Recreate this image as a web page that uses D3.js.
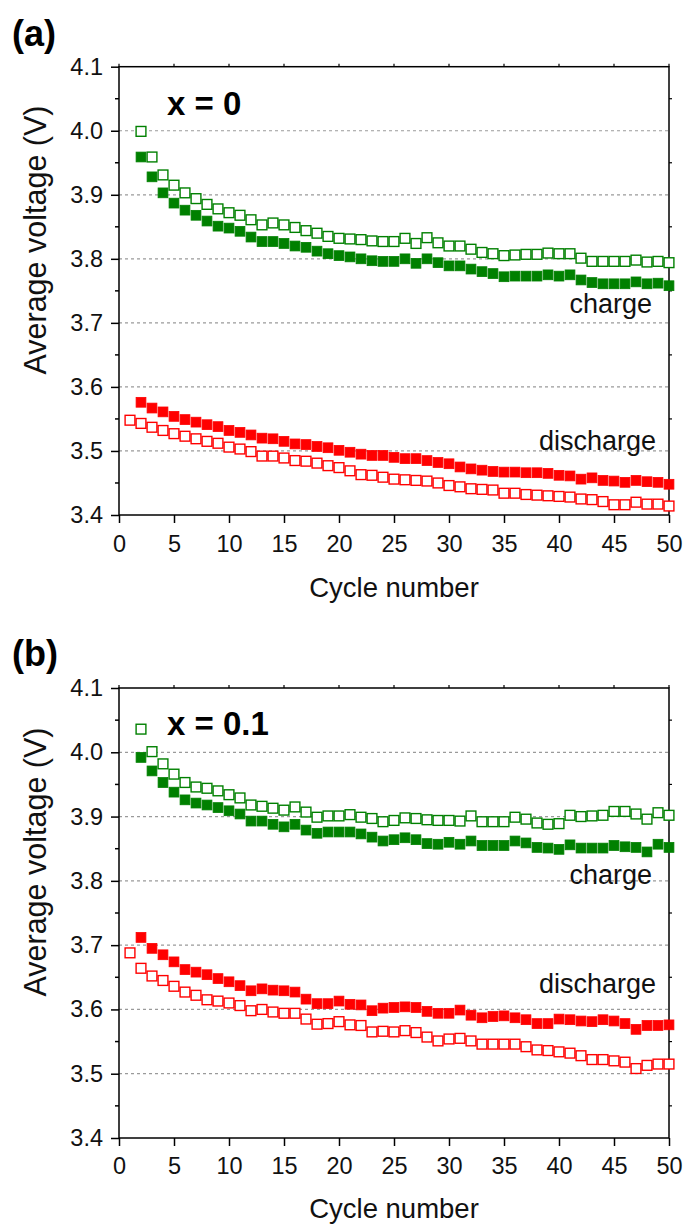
<!DOCTYPE html>
<html>
<head>
<meta charset="utf-8">
<script src="https://cdn.jsdelivr.net/npm/d3@7"></script>
<style>
  body { margin: 0; background: #fff; }
  svg { display: block; font-family: Arial, "Liberation Sans", sans-serif; }
</style>
</head>
<body>
<svg id="chart" width="685" height="1224"></svg>
<script>
// ---------------- DATA ----------------
const cyclesAll = [1,2,3,4,5,6,7,8,9,10,11,12,13,14,15,16,17,18,19,20,21,22,23,24,25,26,27,28,29,30,31,32,33,34,35,36,37,38,39,40,41,42,43,44,45,46,47,48,49,50];
const cyclesFrom2 = cyclesAll.slice(1);

const xTicks = [0,5,10,15,20,25,30,35,40,45,50];
const yTicks = [3.4,3.5,3.6,3.7,3.8,3.9,4.0,4.1];
const yTickLabels = ["3.4","3.5","3.6","3.7","3.8","3.9","4.0","4.1"];

// Panel (a): x = 0
const aChargeOpen = [3.999,3.959,3.931,3.915,3.903,3.894,3.885,3.878,3.872,3.868,3.861,3.853,3.856,3.853,3.849,3.844,3.840,3.835,3.832,3.831,3.830,3.828,3.827,
  3.827,3.832,3.824,3.833,3.825,3.820,3.820,3.815,3.810,3.808,3.805,3.806,3.807,3.807,3.809,3.808,3.808,3.801,3.796,3.796,3.796,3.796,3.798,3.795,3.796,3.794];
const aChargeFilled = [3.959,3.928,3.903,3.887,3.876,3.868,3.859,3.851,3.848,3.843,3.834,3.827,3.827,3.824,3.820,3.818,3.812,3.808,3.805,3.803,3.800,3.797,3.796,
  3.796,3.800,3.793,3.800,3.794,3.789,3.789,3.784,3.780,3.777,3.772,3.773,3.773,3.773,3.775,3.773,3.775,3.767,3.763,3.761,3.761,3.761,3.764,3.761,3.762,3.758];
const aDischargeFilled = [3.576,3.567,3.561,3.554,3.549,3.545,3.541,3.538,3.532,3.529,3.525,3.520,3.519,3.515,3.511,3.510,3.507,3.505,3.501,3.498,3.495,3.493,3.493,
  3.490,3.488,3.488,3.485,3.482,3.480,3.475,3.472,3.470,3.468,3.467,3.467,3.466,3.466,3.465,3.462,3.461,3.456,3.458,3.454,3.453,3.451,3.454,3.452,3.451,3.448];
const aDischargeOpen = [3.548,3.543,3.537,3.532,3.527,3.523,3.519,3.515,3.512,3.506,3.503,3.499,3.492,3.492,3.489,3.485,3.484,3.481,3.477,3.474,3.469,3.463,3.462,3.459,
  3.456,3.455,3.454,3.453,3.450,3.446,3.444,3.441,3.440,3.439,3.434,3.434,3.432,3.431,3.430,3.429,3.428,3.425,3.424,3.421,3.416,3.416,3.420,3.417,3.417,3.414];

// Panel (b): x = 0.1
const bChargeOpen = [4.036,4.001,3.982,3.966,3.953,3.946,3.944,3.940,3.934,3.929,3.918,3.916,3.913,3.910,3.915,3.907,3.899,3.901,3.901,3.903,3.899,3.897,3.892,
  3.894,3.898,3.897,3.895,3.894,3.894,3.893,3.901,3.892,3.892,3.892,3.899,3.896,3.890,3.888,3.889,3.902,3.900,3.901,3.902,3.908,3.908,3.904,3.896,3.906,3.902];
const bChargeFilled = [3.992,3.971,3.953,3.938,3.926,3.921,3.918,3.914,3.909,3.904,3.893,3.893,3.888,3.884,3.888,3.879,3.874,3.876,3.876,3.876,3.873,3.868,3.862,
  3.864,3.867,3.864,3.858,3.857,3.860,3.857,3.862,3.855,3.855,3.855,3.862,3.859,3.852,3.851,3.849,3.856,3.851,3.851,3.851,3.855,3.853,3.852,3.845,3.857,3.852];
const bDischargeFilled = [3.712,3.695,3.685,3.674,3.662,3.658,3.654,3.648,3.643,3.637,3.629,3.632,3.630,3.629,3.627,3.616,3.609,3.609,3.613,3.608,3.607,3.598,3.602,
  3.603,3.604,3.603,3.597,3.594,3.594,3.599,3.591,3.587,3.589,3.590,3.587,3.584,3.578,3.578,3.585,3.584,3.582,3.581,3.584,3.582,3.578,3.569,3.575,3.575,3.576];
const bDischargeOpen = [3.688,3.664,3.652,3.645,3.636,3.627,3.622,3.615,3.613,3.610,3.606,3.598,3.600,3.596,3.594,3.594,3.585,3.577,3.578,3.581,3.576,3.575,3.565,3.566,
  3.565,3.567,3.564,3.557,3.551,3.554,3.555,3.551,3.546,3.546,3.546,3.546,3.542,3.537,3.536,3.534,3.532,3.528,3.522,3.522,3.520,3.518,3.508,3.513,3.515,3.515];

const panelLetters = ["(a)", "(b)"];
const compositions = ["x = 0", "x = 0.1"];
const xTitle = "Cycle number";
const yTitle = "Average voltage (V)";
const chargeLabel = "charge";
const dischargeLabel = "discharge";

// ---------------- LAYOUT ----------------
const GREEN = "#008000", RED = "#ff0000";
const panels = [
  { top: 66.7, bottom: 515, letterY: 46, compY: 115, chargeY: 313, dischargeY: 450, yTitleY: 240, xLabY: 552, xTitleY: 597,
    series: [
      { x: cyclesFrom2, y: aChargeFilled, color: GREEN, filled: true },
      { x: cyclesFrom2, y: aChargeOpen, color: GREEN, filled: false },
      { x: cyclesFrom2, y: aDischargeFilled, color: RED, filled: true },
      { x: cyclesAll, y: aDischargeOpen, color: RED, filled: false }
    ]},
  { top: 688, bottom: 1138, letterY: 666, compY: 735, chargeY: 884, dischargeY: 993, yTitleY: 862, xLabY: 1174, xTitleY: 1218,
    series: [
      { x: cyclesFrom2, y: bChargeFilled, color: GREEN, filled: true },
      { x: cyclesFrom2, y: bChargeOpen, color: GREEN, filled: false },
      { x: cyclesFrom2, y: bDischargeFilled, color: RED, filled: true },
      { x: cyclesAll, y: bDischargeOpen, color: RED, filled: false }
    ]}
];
const left = 119, right = 669;
const svg = d3.select("#chart");

panels.forEach((p, i) => {
  const x = d3.scaleLinear().domain([0, 50]).range([left, right]);
  const y = d3.scaleLinear().domain([3.4, 4.1]).range([p.bottom, p.top]);
  const g = svg.append("g");

  // gridlines
  g.selectAll("line.grid").data(yTicks.filter(v => v > 3.45 && v < 4.05)).join("line")
    .attr("x1", left).attr("x2", right)
    .attr("y1", d => y(d)).attr("y2", d => y(d))
    .attr("stroke", "#9a9a9a").attr("stroke-width", 1.2).attr("stroke-dasharray", "3,3");

  // left axis
  const yAxis = d3.axisLeft(y).tickValues(yTicks).tickFormat((d, k) => yTickLabels[k]).tickSize(8).tickPadding(8);
  const ya = g.append("g").attr("transform", `translate(${left},0)`).call(yAxis);
  ya.select(".domain").remove();
  ya.selectAll("line").attr("stroke", "#000").attr("stroke-width", 1.5);
  ya.selectAll("text").attr("font-size", 23.5).attr("fill", "#111").attr("font-family", "Arial, Liberation Sans, sans-serif");
  // minor ticks left
  const minorY = [3.45,3.55,3.65,3.75,3.85,3.95,4.05];
  g.selectAll("line.minl").data(minorY).join("line")
    .attr("x1", left - 4).attr("x2", left).attr("y1", d => y(d)).attr("y2", d => y(d))
    .attr("stroke", "#000").attr("stroke-width", 1.5);
  // right ticks
  g.selectAll("line.minr").data(minorY).join("line")
    .attr("x1", right).attr("x2", right + 3).attr("y1", d => y(d)).attr("y2", d => y(d))
    .attr("stroke", "#000").attr("stroke-width", 1.2);

  // bottom axis
  const xAxis = d3.axisBottom(x).tickValues(xTicks).tickSize(8).tickPadding(4);
  const xa = g.append("g").attr("transform", `translate(0,${p.bottom})`).call(xAxis);
  xa.select(".domain").remove();
  xa.selectAll("line").attr("stroke", "#000").attr("stroke-width", 1.5);
  xa.selectAll("text").attr("font-size", 23.5).attr("fill", "#111").attr("font-family", "Arial, Liberation Sans, sans-serif")
    .attr("dy", null).attr("y", p.xLabY - p.bottom);
  // top ticks
  g.selectAll("line.topt").data(xTicks).join("line")
    .attr("x1", d => x(d)).attr("x2", d => x(d)).attr("y1", p.top - 3).attr("y2", p.top)
    .attr("stroke", "#000").attr("stroke-width", 1.2);

  // frame
  g.append("rect").attr("x", left).attr("y", p.top).attr("width", right - left).attr("height", p.bottom - p.top)
    .attr("fill", "none").attr("stroke", "#000").attr("stroke-width", 1.5);

  // markers
  const S = 9.8;
  p.series.forEach(s => {
    const pts = s.x.map((c, k) => [c, s.y[k]]);
    g.append("g").selectAll("rect").data(pts).join("rect")
      .attr("x", d => x(d[0]) - S / 2).attr("y", d => y(d[1]) - S / 2)
      .attr("width", S).attr("height", S)
      .attr("fill", s.filled ? s.color : "#fff")
      .attr("stroke", s.color).attr("stroke-width", s.filled ? 0.8 : 1.4);
  });

  // texts
  svg.append("text").attr("x", 12).attr("y", p.letterY).attr("font-size", 36).attr("font-weight", "bold").text(panelLetters[i]);
  svg.append("text").attr("x", 167).attr("y", p.compY).attr("font-size", 33).attr("font-weight", "bold").text(compositions[i]);
  svg.append("text").attr("x", 652).attr("y", p.chargeY).attr("text-anchor", "end").attr("font-size", 27).attr("fill", "#111").text(chargeLabel);
  svg.append("text").attr("x", 656).attr("y", p.dischargeY).attr("text-anchor", "end").attr("font-size", 27).attr("fill", "#111").text(dischargeLabel);
  svg.append("text").attr("x", (left + right) / 2).attr("y", p.xTitleY).attr("text-anchor", "middle").attr("font-size", 27.5).attr("fill", "#111").text(xTitle);
  svg.append("text").attr("transform", `translate(46,${p.yTitleY}) rotate(-90)`).attr("text-anchor", "middle").attr("font-size", 30.5).attr("fill", "#111").text(yTitle);
});
</script>
</body>
</html>
